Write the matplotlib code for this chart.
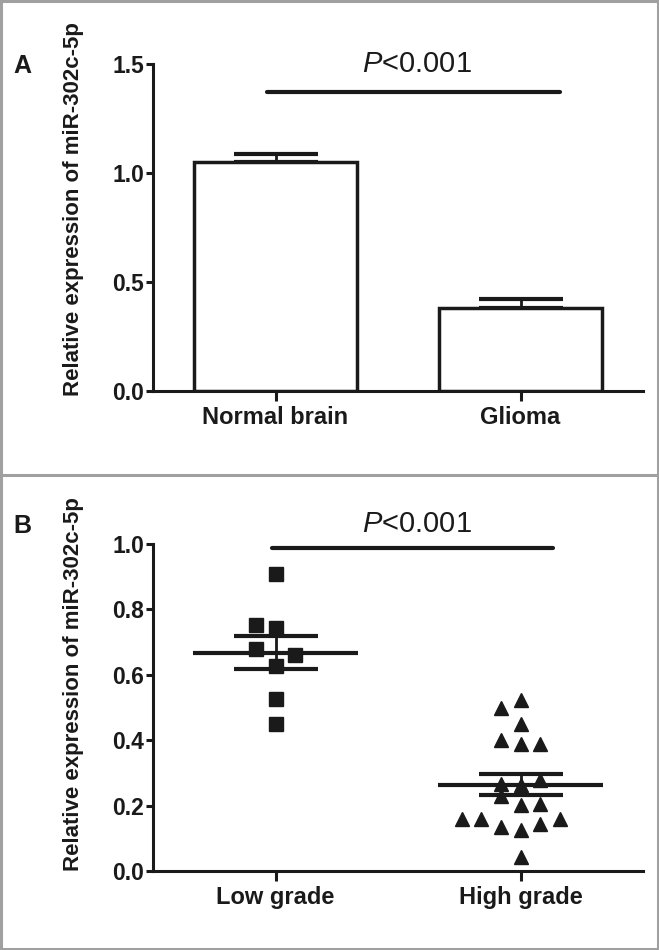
import numpy as np
import matplotlib
matplotlib.use('Agg')
import matplotlib.pyplot as plt
from matplotlib.patches import Rectangle
from matplotlib.lines import Line2D
from matplotlib.ticker import FormatStrFormatter

plt.rcParams['font.family'] = ['Liberation Sans', 'DejaVu Sans']
plt.rcParams['mathtext.fontset'] = 'custom'
plt.rcParams['mathtext.rm'] = 'Liberation Sans'
plt.rcParams['mathtext.it'] = 'Liberation Sans:italic'

# panel A: bar chart, mean and SEM
groups_a = ['Normal brain', 'Glioma']
mean_a = [1.053, 0.38]
sem_a = [0.034, 0.041]

# panel B: column scatter
groups_b = ['Low grade', 'High grade']
low_vals = [0.908, 0.752, 0.742, 0.678, 0.66, 0.627, 0.525, 0.45]
low_slot = [0, -1, 0, -1, 1, 0, 0, 0]
high_vals = [0.524, 0.499, 0.45, 0.40, 0.389, 0.389, 0.277, 0.265, 0.262, 0.228,
             0.203, 0.206, 0.16, 0.158, 0.134, 0.126, 0.145, 0.16, 0.042]
high_slot = [0, -1, 0, -1, 0, 1, 1, -1, 0, -1,
             0, 1, -3, -2, -1, 0, 1, 2, 0]

ylabel = 'Relative expression of miR-302c-5p'
p_text = r'$P$<0.001'

k = '#1a1a1a'
W, H = 659, 950
fig = plt.figure(figsize=(W / 100, H / 100), dpi=100)


def px_axes(x0, y0, x1, y1):
    return fig.add_axes([x0 / W, 1 - y1 / H, (x1 - x0) / W, (y1 - y0) / H])


def style(ax, top, step, labels):
    for s in ['top', 'right']:
        ax.spines[s].set_visible(False)
    for s in ['left', 'bottom']:
        ax.spines[s].set_linewidth(2.2)
        ax.spines[s].set_color(k)
    ax.set_xlim(-0.5, 1.5)
    ax.set_ylim(0, top)
    ax.set_yticks(np.arange(0, top + step / 2, step))
    ax.yaxis.set_major_formatter(FormatStrFormatter('%.1f'))
    ax.set_xticks([0, 1])
    ax.set_xticklabels(labels)
    ax.tick_params(axis='y', length=5, width=2.2, pad=1.5, labelsize=16.5, colors=k)
    ax.tick_params(axis='x', length=7, width=2.2, pad=4, labelsize=17, colors=k)
    for t in ax.get_xticklabels() + ax.get_yticklabels():
        t.set_fontweight('bold')
    ax.set_ylabel(ylabel, fontsize=16, fontweight='bold', color=k)


def sig(ax, x0, x1, y, ty):
    ax.plot([x0, x1], [y, y], color=k, lw=3, solid_capstyle='round', clip_on=False)
    ax.text(0.578, ty, p_text, ha='center', va='baseline', fontsize=21, color=k,
            clip_on=False)


# ---- panel A
axA = px_axes(153, 64.3, 643, 391)
style(axA, 1.5, 0.5, groups_a)
xa = np.arange(len(groups_a))
axA.bar(xa, mean_a, width=0.665, facecolor='white', edgecolor=k, linewidth=2.5, zorder=2)
axA.errorbar(xa, mean_a, yerr=[np.zeros(len(sem_a)), sem_a], fmt='none', ecolor=k,
             elinewidth=2, capsize=30.5, capthick=3, zorder=1)
sig(axA, -0.035, 1.161, 1.374, 1.465)
axA.yaxis.set_label_coords(-0.141, 0.557)

# ---- panel B
axB = px_axes(153, 544, 643, 871)
style(axB, 1.0, 0.2, groups_b)
jit = 0.08
for i, (vals, slots, mk) in enumerate([(low_vals, low_slot, 's'), (high_vals, high_slot, '^')]):
    vals = np.array(vals)
    xs = i + np.array(slots) * jit
    axB.plot(xs, vals, mk, ms=9.5, color=k, mec=k, ls='none', clip_on=False, zorder=3)
    m = vals.mean()
    se = vals.std(ddof=1) / np.sqrt(len(vals))
    axB.hlines(m, i - 0.336, i + 0.336, color=k, lw=3, zorder=4)
    axB.errorbar(i, m, yerr=se, fmt='none', ecolor=k, elinewidth=2, capsize=30.5,
                 capthick=3, zorder=4)
sig(axB, -0.014, 1.133, 0.987, 1.038)
axB.yaxis.set_label_coords(-0.141, 0.572)

# panel letters, frame and divider
fig.text(22 / W, 1 - 66 / H, 'A', fontsize=18, fontweight='bold', ha='center', va='center', color=k)
fig.text(22 / W, 1 - 526 / H, 'B', fontsize=18, fontweight='bold', ha='center', va='center', color=k)
gray = '#a0a0a0'
fig.add_artist(Rectangle((1.2 / W, 1.2 / H), 1 - 2.4 / W, 1 - 2.4 / H, fill=False,
                         edgecolor=gray, lw=2.2, transform=fig.transFigure))
fig.add_artist(Line2D([0, 1], [1 - 475 / H] * 2, color=gray, lw=2.2, transform=fig.transFigure))

fig.savefig('out.png', dpi=100)
